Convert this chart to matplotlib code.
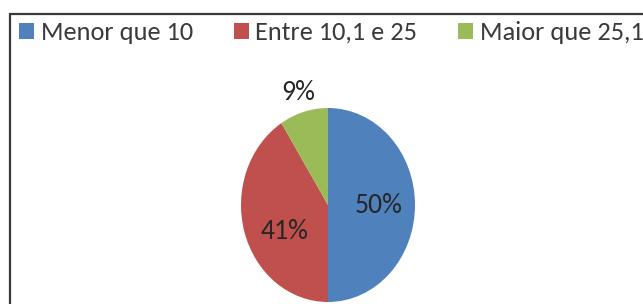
import matplotlib
matplotlib.use("Agg")
import matplotlib.pyplot as plt
import numpy as np
from matplotlib.patches import Rectangle

# Pie data
categories = ["Menor que 10", "Entre 10,1 e 25", "Maior que 25,1"]
shares = [50, 41, 9]
labels = ["50%", "41%", "9%"]
colors = ["#4F81BD", "#C0504D", "#9BBB59"]
# label placement: distance from centre along the wedge middle, plus a small vertical nudge
label_dist = [0.58, 0.52, 1.21]
label_dy = [-0.01, -0.13, 0.0]

plt.rcParams['font.family'] = ['Carlito', 'DejaVu Sans']

W, H = 643, 304
fig = plt.figure(figsize=(W / 100, H / 100), dpi=100)
fig.patch.set_facecolor("white")

# chart frame (right and bottom edges fall outside the picture)
fig.add_artist(Rectangle((10 / W, -0.2), 1.2, (H - 14) / H + 0.2,
                         transform=fig.transFigure, fill=False,
                         edgecolor="#3a3a3a", linewidth=1.6))

# pie is slightly stretched vertically, so use an axes with auto aspect
cx, cy, rx, ry = 328, 205, 87, 97
ax = fig.add_axes([(cx - rx) / W, (H - cy - ry) / H, 2 * rx / W, 2 * ry / H])
wedges, _ = ax.pie(shares, colors=colors, startangle=90, counterclock=False,
                   radius=1, wedgeprops=dict(linewidth=0))
ax.set_aspect("auto")
ax.set_xlim(-1, 1)
ax.set_ylim(-1, 1)
ax.axis("off")

for w, lab, d, dy in zip(wedges, labels, label_dist, label_dy):
    ang = np.deg2rad((w.theta1 + w.theta2) / 2)
    ax.text(d * np.cos(ang), d * np.sin(ang) + dy, lab,
            ha="center", va="center", fontsize=20, color="#262626", clip_on=False)

fig.legend(wedges, categories, loc="upper left", bbox_to_anchor=(19 / W, 1 - 21 / H),
           ncol=3, frameon=False, fontsize=19, handlelength=0.57, handleheight=0.57,
           handletextpad=0.25, columnspacing=1.55, borderaxespad=0, borderpad=0,
           labelcolor="#3a3a3a")

fig.savefig("out.png", dpi=100)
